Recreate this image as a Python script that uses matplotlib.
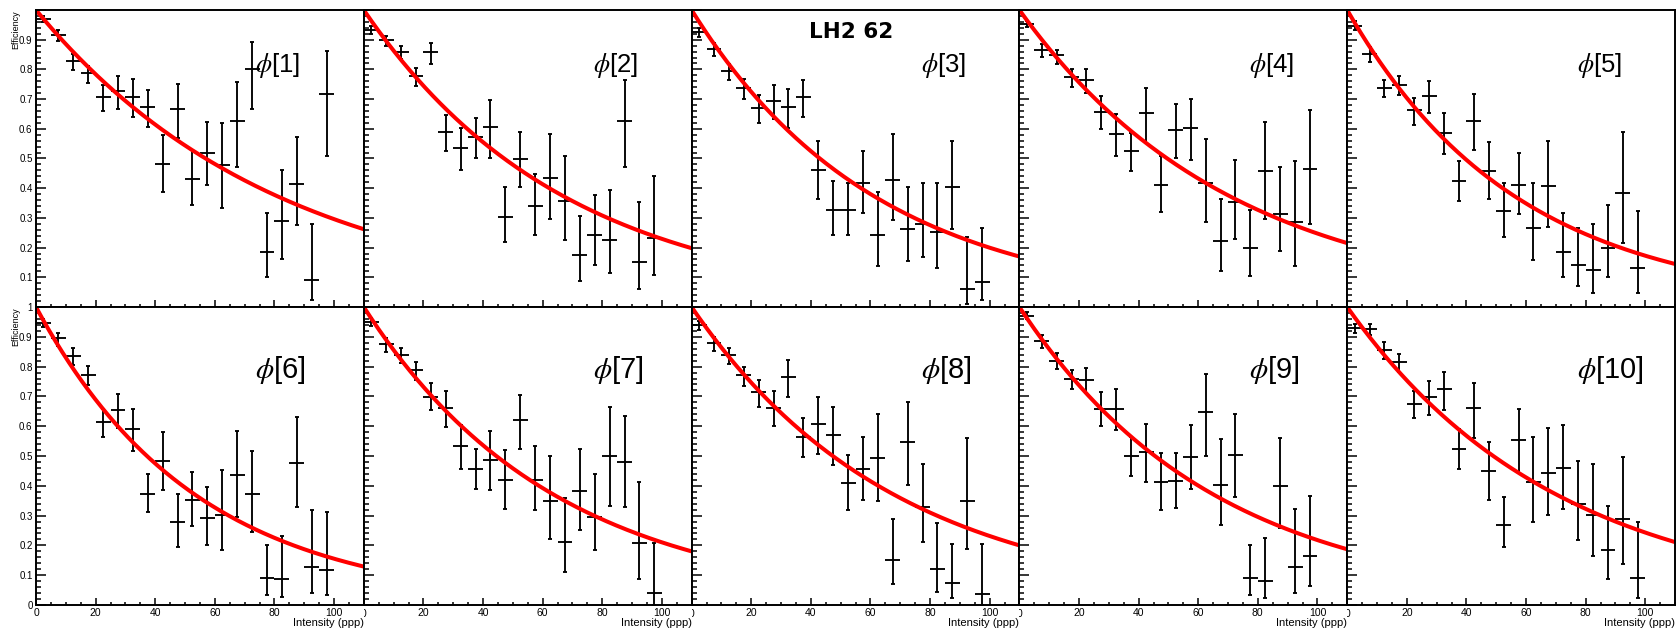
import numpy as np
import matplotlib
matplotlib.use("Agg")
import matplotlib.pyplot as plt
from matplotlib.ticker import MultipleLocator, FuncFormatter
from matplotlib.transforms import Bbox, TransformedBbox

plt.rcParams['font.family'] = ['Liberation Sans', 'DejaVu Sans']
plt.rcParams['mathtext.fontset'] = 'stix'

# ---------------------------------------------------------------- data
title = "LH2 62"
x_label = "Intensity (ppp)"
y_label = "Efficiency"
panel_labels = [r"$\phi$[1]", r"$\phi$[2]", r"$\phi$[3]", r"$\phi$[4]", r"$\phi$[5]",
                r"$\phi$[6]", r"$\phi$[7]", r"$\phi$[8]", r"$\phi$[9]", r"$\phi$[10]"]

# intensity bin centres (bins are 5 ppp wide)
intensity = [2.5, 7.5, 12.5, 17.5, 22.5, 27.5, 32.5, 37.5, 42.5, 47.5,
             52.5, 57.5, 62.5, 67.5, 72.5, 77.5, 82.5, 87.5, 92.5, 97.5]
bin_half_width = 2.5

# efficiency per bin and the lower / upper edge of its confidence interval
phi1_eff = [0.970, 0.916, 0.827, 0.789, 0.707, 0.728, 0.707, 0.674, 0.481, 0.666,
            0.432, 0.518, 0.477, 0.626, 0.803, 0.184, 0.289, 0.415, 0.092, 0.716]
phi1_low = [0.958, 0.895, 0.797, 0.755, 0.660, 0.667, 0.641, 0.607, 0.386, 0.568,
            0.342, 0.412, 0.334, 0.473, 0.665, 0.102, 0.161, 0.275, 0.025, 0.510]
phi1_high = [0.980, 0.931, 0.852, 0.813, 0.747, 0.777, 0.767, 0.732, 0.579, 0.752,
             0.527, 0.624, 0.621, 0.758, 0.892, 0.317, 0.460, 0.574, 0.278, 0.861]

phi2_eff = [0.933, 0.900, 0.858, 0.777, 0.858, 0.588, 0.535, 0.574, 0.605, 0.304,
            0.499, 0.340, 0.434, 0.356, 0.175, 0.242, 0.226, 0.627, 0.153, 0.234]
phi2_low = [0.919, 0.880, 0.836, 0.743, 0.819, 0.526, 0.462, 0.501, 0.503, 0.220,
            0.404, 0.243, 0.295, 0.226, 0.089, 0.141, 0.114, 0.471, 0.059, 0.108]
phi2_high = [0.947, 0.914, 0.880, 0.806, 0.888, 0.646, 0.604, 0.635, 0.696, 0.403,
             0.590, 0.449, 0.581, 0.507, 0.306, 0.376, 0.395, 0.765, 0.353, 0.440]

phi3_eff = [0.925, 0.869, 0.793, 0.739, 0.669, 0.693, 0.672, 0.707, 0.462, 0.325,
            0.325, 0.418, 0.242, 0.429, 0.264, 0.278, 0.253, 0.404, 0.061, 0.085]
phi3_low = [0.910, 0.844, 0.763, 0.700, 0.620, 0.632, 0.602, 0.640, 0.364, 0.242,
            0.242, 0.317, 0.139, 0.292, 0.156, 0.169, 0.131, 0.264, 0.011, 0.022]
phi3_high = [0.939, 0.888, 0.817, 0.767, 0.713, 0.746, 0.735, 0.763, 0.559, 0.425,
             0.418, 0.525, 0.386, 0.581, 0.403, 0.418, 0.418, 0.560, 0.236, 0.267]

phi4_eff = [0.953, 0.866, 0.847, 0.774, 0.763, 0.657, 0.581, 0.524, 0.654, 0.412,
            0.596, 0.604, 0.418, 0.221, 0.354, 0.197, 0.457, 0.312, 0.286, 0.465]
phi4_low = [0.942, 0.843, 0.817, 0.741, 0.721, 0.598, 0.509, 0.457, 0.551, 0.320,
            0.501, 0.494, 0.286, 0.120, 0.230, 0.106, 0.297, 0.187, 0.139, 0.278]
phi4_high = [0.964, 0.886, 0.866, 0.802, 0.802, 0.710, 0.650, 0.587, 0.739, 0.509,
             0.683, 0.700, 0.566, 0.365, 0.496, 0.326, 0.623, 0.470, 0.492, 0.663]

phi5_eff = [0.947, 0.852, 0.739, 0.749, 0.663, 0.710, 0.585, 0.423, 0.627, 0.459,
            0.323, 0.412, 0.267, 0.406, 0.184, 0.143, 0.125, 0.197, 0.385, 0.130]
phi5_low = [0.933, 0.825, 0.707, 0.715, 0.613, 0.652, 0.515, 0.356, 0.529, 0.362,
            0.237, 0.312, 0.159, 0.271, 0.100, 0.070, 0.047, 0.100, 0.214, 0.046]
phi5_high = [0.962, 0.877, 0.765, 0.777, 0.704, 0.761, 0.654, 0.490, 0.716, 0.555,
             0.416, 0.520, 0.418, 0.559, 0.317, 0.265, 0.278, 0.343, 0.588, 0.323]

phi6_eff = [0.946, 0.895, 0.836, 0.772, 0.614, 0.654, 0.589, 0.374, 0.483, 0.277,
            0.351, 0.292, 0.303, 0.435, 0.373, 0.092, 0.088, 0.477, 0.126, 0.118]
phi6_low = [0.932, 0.868, 0.805, 0.737, 0.563, 0.593, 0.516, 0.311, 0.387, 0.196,
            0.266, 0.202, 0.185, 0.295, 0.245, 0.034, 0.028, 0.328, 0.039, 0.034]
phi6_high = [0.960, 0.912, 0.861, 0.802, 0.659, 0.709, 0.659, 0.440, 0.581, 0.373,
             0.446, 0.396, 0.452, 0.584, 0.516, 0.202, 0.233, 0.632, 0.320, 0.312]

phi7_eff = [0.951, 0.875, 0.840, 0.788, 0.699, 0.660, 0.533, 0.458, 0.486, 0.419,
            0.620, 0.421, 0.348, 0.211, 0.382, 0.295, 0.499, 0.480, 0.208, 0.039]
phi7_low = [0.937, 0.850, 0.811, 0.755, 0.654, 0.598, 0.458, 0.389, 0.387, 0.323,
            0.524, 0.318, 0.222, 0.112, 0.253, 0.183, 0.331, 0.329, 0.086, 0.000]
phi7_high = [0.962, 0.895, 0.864, 0.817, 0.744, 0.718, 0.603, 0.524, 0.584, 0.519,
             0.705, 0.533, 0.499, 0.359, 0.524, 0.438, 0.664, 0.634, 0.412, 0.208]

phi8_eff = [0.939, 0.879, 0.838, 0.771, 0.715, 0.662, 0.765, 0.565, 0.609, 0.570,
            0.410, 0.457, 0.494, 0.152, 0.547, 0.329, 0.120, 0.075, 0.350, 0.036]
phi8_low = [0.924, 0.853, 0.808, 0.735, 0.664, 0.600, 0.699, 0.496, 0.508, 0.471,
            0.318, 0.351, 0.348, 0.071, 0.404, 0.213, 0.045, 0.022, 0.187, 0.000]
phi8_high = [0.954, 0.898, 0.864, 0.800, 0.755, 0.718, 0.822, 0.628, 0.699, 0.664,
             0.503, 0.565, 0.640, 0.288, 0.681, 0.474, 0.275, 0.204, 0.561, 0.204]

phi9_eff = [0.971, 0.887, 0.819, 0.760, 0.755, 0.659, 0.659, 0.499, 0.513, 0.412,
            0.415, 0.496, 0.649, 0.404, 0.502, 0.090, 0.079, 0.398, 0.129, 0.165]
phi9_low = [0.960, 0.864, 0.791, 0.726, 0.710, 0.600, 0.587, 0.432, 0.412, 0.320,
            0.325, 0.389, 0.499, 0.269, 0.363, 0.034, 0.022, 0.258, 0.039, 0.064]
phi9_high = [0.982, 0.906, 0.845, 0.789, 0.795, 0.716, 0.724, 0.565, 0.606, 0.511,
             0.511, 0.603, 0.774, 0.556, 0.640, 0.202, 0.224, 0.561, 0.323, 0.365]

phi10_eff = [0.928, 0.926, 0.856, 0.814, 0.676, 0.698, 0.724, 0.524, 0.660, 0.449,
             0.269, 0.553, 0.413, 0.443, 0.460, 0.339, 0.301, 0.183, 0.288, 0.092]
phi10_low = [0.912, 0.906, 0.827, 0.782, 0.629, 0.637, 0.653, 0.455, 0.561, 0.354,
             0.193, 0.443, 0.278, 0.301, 0.322, 0.217, 0.166, 0.088, 0.138, 0.022]
phi10_high = [0.943, 0.943, 0.881, 0.842, 0.718, 0.752, 0.782, 0.591, 0.746, 0.547,
              0.361, 0.659, 0.563, 0.595, 0.603, 0.483, 0.474, 0.331, 0.497, 0.278]

# exponential fit  eff(I) = norm * exp(-slope * I)  for each phi bin
fit_norm = [1.0, 1.0, 1.0, 1.0, 1.0, 1.0, 1.0, 1.0, 1.0, 1.0]
fit_slope = [0.01218, 0.01472, 0.01611, 0.01397, 0.01756,
             0.01862, 0.01559, 0.01463, 0.01524, 0.01414]

panels = [
    (phi1_eff, phi1_low, phi1_high), (phi2_eff, phi2_low, phi2_high),
    (phi3_eff, phi3_low, phi3_high), (phi4_eff, phi4_low, phi4_high),
    (phi5_eff, phi5_low, phi5_high), (phi6_eff, phi6_low, phi6_high),
    (phi7_eff, phi7_low, phi7_high), (phi8_eff, phi8_low, phi8_high),
    (phi9_eff, phi9_low, phi9_high), (phi10_eff, phi10_low, phi10_high),
]

# ---------------------------------------------------------------- layout (pixels)
W, H = 1679, 634
col_edges = np.linspace(36, 1675, 6)
row_top = [10, 307]
row_bottom = [307, 605]
x_max = 110

fig = plt.figure(figsize=(W / 100, H / 100), dpi=100)
fig.patch.set_facecolor('white')

fit_x = np.linspace(0, x_max, 300)
xc = np.array(intensity)


def y_formatter(row):
    def fmt(v, pos):
        if row == 0 and (abs(v) < 1e-6 or abs(v - 1) < 1e-6):
            return ''
        return f'{v:g}'
    return FuncFormatter(fmt)


def x_formatter(col):
    def fmt(v, pos):
        if col > 0 and abs(v) < 1e-6:
            return ''
        return f'{v:g}'
    return FuncFormatter(fmt)


for i, (eff, low, high) in enumerate(panels):
    r, c = divmod(i, 5)
    x0, x1 = col_edges[c], col_edges[c + 1]
    yt, yb = row_top[r], row_bottom[r]
    ax = fig.add_axes([x0 / W, 1 - yb / H, (x1 - x0) / W, (yb - yt) / H])
    ax.set_xlim(0, x_max)
    ax.set_ylim(0, 1)

    eff = np.array(eff)
    low = np.array(low)
    high = np.array(high)
    ax.errorbar(xc, eff, yerr=[eff - low, high - eff], fmt='none', ecolor='black',
                elinewidth=1.35, capsize=1.6, capthick=1.35, zorder=2)
    ax.errorbar(xc, eff, xerr=bin_half_width, fmt='none', ecolor='black',
                elinewidth=1.35, capsize=0, zorder=2)
    ax.plot(fit_x, fit_norm[i] * np.exp(-fit_slope[i] * fit_x), color='#ff0000',
            lw=2.9, zorder=3, solid_capstyle='butt')

    for s in ax.spines.values():
        s.set_linewidth(1.4)
        s.set_color('black')
        s.set_zorder(5)

    ax.xaxis.set_major_locator(MultipleLocator(20))
    ax.xaxis.set_minor_locator(MultipleLocator(5))
    ax.yaxis.set_major_locator(MultipleLocator(0.1))
    ax.yaxis.set_minor_locator(MultipleLocator(0.02))
    ax.tick_params(axis='both', which='both', direction='in', top=False, right=False,
                   width=1.1, colors='black', labelsize=7)
    ax.tick_params(axis='x', which='major', length=5.0, pad=2.5, labelsize=7.5)
    ax.tick_params(axis='x', which='minor', length=2.5)
    ax.tick_params(axis='y', which='major', length=7.0, pad=2.5)
    ax.tick_params(axis='y', which='minor', length=3.6)

    if c == 0:
        ax.yaxis.set_major_formatter(y_formatter(r))
    else:
        ax.tick_params(axis='y', labelleft=False)

    if r == 1:
        ax.xaxis.set_major_formatter(x_formatter(c))
        if c > 0:
            # the "0" label sits on the shared edge and is cut by the panel border
            t = ax.text(0, -0.012, '0', transform=ax.get_xaxis_transform(),
                        ha='center', va='top', fontsize=7.5)
            t.set_clip_box(TransformedBbox(Bbox([[0, -0.2], [1.0, 1.0]]), ax.transAxes))
            t.set_clip_on(True)
        fig.text(x1 / W, 1 - 623 / H, x_label, ha='right', va='center', fontsize=8)
    else:
        ax.tick_params(axis='x', labelbottom=False)

    # phi label placed in the upper right of each pad
    pad_left = 0 if c == 0 else x0
    lx = pad_left + 0.7 * (x1 - pad_left)
    ly = 72 if r == 0 else 378
    fig.text(lx / W, 1 - ly / H, panel_labels[i], ha='left', va='baseline',
             fontsize=18.5 if r == 0 else 21)

    if c == 0:
        fig.text(16 / W, 1 - yt / H, y_label, rotation=90, ha='center', va='top',
                 fontsize=6.5)

fig.text(851 / W, 1 - 32 / H, title, ha='center', va='center', fontsize=15.5,
         fontweight='bold', family='DejaVu Sans')

fig.savefig('out.png', dpi=100, facecolor='white')
